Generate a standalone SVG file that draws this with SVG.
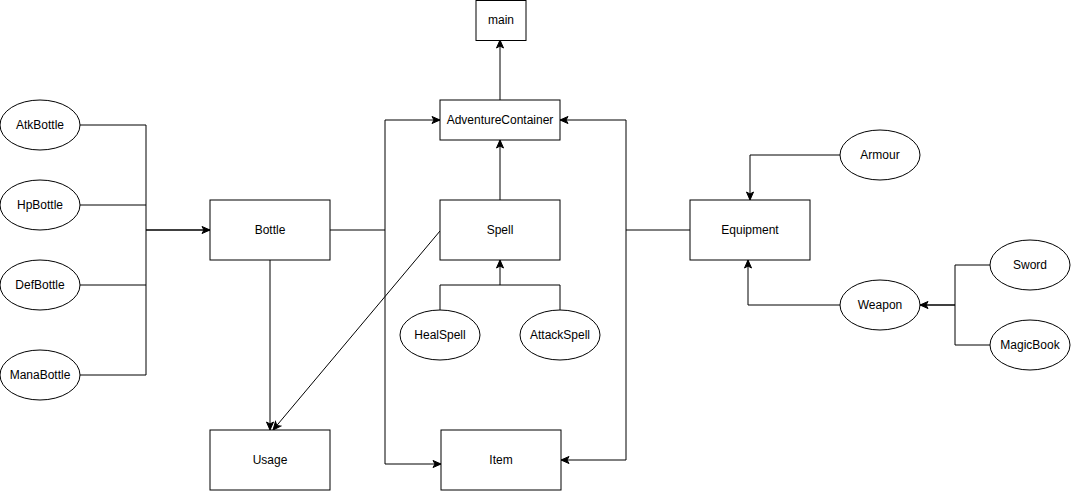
<svg xmlns="http://www.w3.org/2000/svg" width="1071" height="491" viewBox="0 0 1071 491">
<style>
.n{fill:#fff;stroke:#000;stroke-width:1}
.t{font-family:"Liberation Sans",Arial,sans-serif;font-size:12px;fill:#000;text-anchor:middle;dominant-baseline:central}
.c{fill:none;stroke:#000;stroke-width:1}
.a{marker-end:url(#arr)}
</style>
<defs>
<marker id="arr" markerWidth="10" markerHeight="10" refX="9" refY="4.5" orient="auto" markerUnits="userSpaceOnUse">
<path d="M1,1 L9,4.5 L1,8 L3,4.5 Z" fill="#000" stroke="#000" stroke-width="1"/>
</marker>
</defs>
<rect width="1071" height="491" fill="#fff"/>
<g id="connectors">
<path class="c" d="M80,125 H146 V375 H80"/>
<path class="c" d="M80,205 H146"/>
<path class="c" d="M80,285 H146"/>
<path class="c a" d="M146,230 H210" stroke-width="1.5" style="stroke-width:1.5"/>
<path class="c a" d="M270,260 V430"/>
<path class="c a" d="M330,230 H385 V120 H440"/>
<path class="c a" d="M385,230 V464 H441"/>
<path class="c a" d="M440,231 L273,430"/>
<path class="c a" d="M500,200 V140"/>
<path class="c a" d="M500,100 V40"/>
<path class="c" d="M440,310 V285 H560 V310"/>
<path class="c a" d="M500,285 V260"/>
<path class="c" d="M690,230 H626"/>
<path class="c a" d="M626,230 V120 H560"/>
<path class="c a" d="M626,230 V460 H561"/>
<path class="c a" d="M840,155 H750 V200"/>
<path class="c a" d="M840,305 H748 V260"/>
<path class="c" d="M990,265 H955 V345 H990"/>
<path class="c a" d="M955,305 H920" style="stroke-width:1.5"/>
</g>
<g id="AtkBottle"><ellipse class="n" cx="40" cy="125" rx="40" ry="25"/><text class="t" x="40" y="125">AtkBottle</text></g>
<g id="HpBottle"><ellipse class="n" cx="40" cy="205" rx="40" ry="25"/><text class="t" x="40" y="205">HpBottle</text></g>
<g id="DefBottle"><ellipse class="n" cx="40" cy="285" rx="40" ry="25"/><text class="t" x="40" y="285">DefBottle</text></g>
<g id="ManaBottle"><ellipse class="n" cx="40" cy="375" rx="40" ry="25"/><text class="t" x="40" y="375">ManaBottle</text></g>
<g id="Bottle"><rect class="n" x="210" y="200" width="120" height="60"/><text class="t" x="270" y="230">Bottle</text></g>
<g id="Usage"><rect class="n" x="210" y="430" width="120" height="60"/><text class="t" x="270" y="460">Usage</text></g>
<g id="main"><rect class="n" x="476" y="0.5" width="50" height="40"/><text class="t" x="501" y="20">main</text></g>
<g id="AdventureContainer"><rect class="n" x="440" y="100" width="120" height="40"/><text class="t" x="500" y="120">AdventureContainer</text></g>
<g id="Spell"><rect class="n" x="440" y="200" width="120" height="60"/><text class="t" x="500" y="230">Spell</text></g>
<g id="HealSpell"><ellipse class="n" cx="440" cy="335" rx="40" ry="25"/><text class="t" x="440" y="335">HealSpell</text></g>
<g id="AttackSpell"><ellipse class="n" cx="560" cy="335" rx="40" ry="25"/><text class="t" x="560" y="335">AttackSpell</text></g>
<g id="Item"><rect class="n" x="441" y="430" width="120" height="60"/><text class="t" x="501" y="460">Item</text></g>
<g id="Equipment"><rect class="n" x="690" y="200" width="120" height="60"/><text class="t" x="750" y="230">Equipment</text></g>
<g id="Armour"><ellipse class="n" cx="880" cy="155" rx="40" ry="25"/><text class="t" x="880" y="155">Armour</text></g>
<g id="Weapon"><ellipse class="n" cx="880" cy="305" rx="40" ry="25"/><text class="t" x="880" y="305">Weapon</text></g>
<g id="Sword"><ellipse class="n" cx="1030" cy="265" rx="40" ry="25"/><text class="t" x="1030" y="265">Sword</text></g>
<g id="MagicBook"><ellipse class="n" cx="1030" cy="345" rx="40" ry="25"/><text class="t" x="1030" y="345">MagicBook</text></g>
</svg>
